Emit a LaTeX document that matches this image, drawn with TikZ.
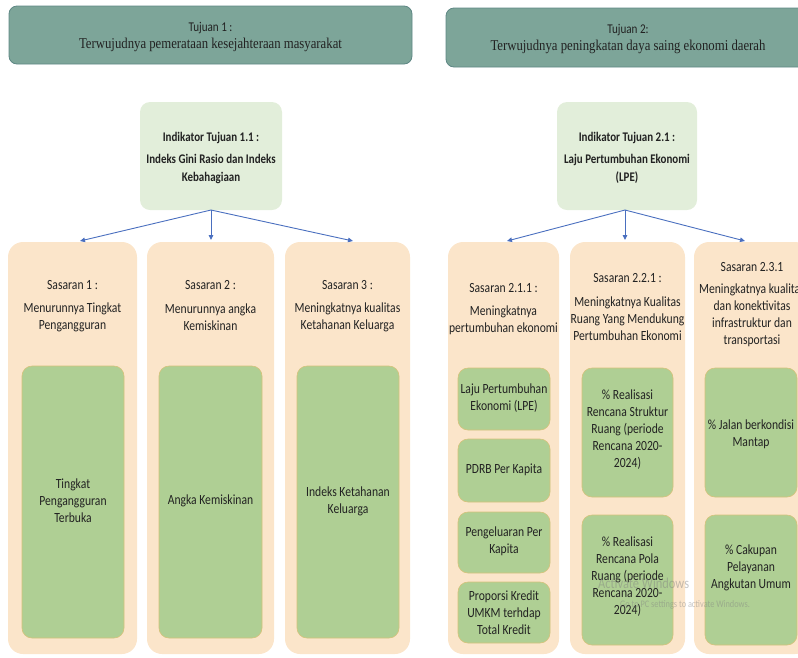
\documentclass[tikz,border=0pt]{standalone}
\usepackage{fontspec}
\setmainfont{Carlito}[FakeStretch=0.83]
\newfontfamily\headserif{Liberation Serif}[FakeStretch=0.85]
\usetikzlibrary{arrows.meta,calc}

\definecolor{tealhead}{HTML}{7DA599}
\definecolor{tealedge}{HTML}{5E8784}
\definecolor{indfill}{HTML}{E2EEDA}
\definecolor{sasfill}{HTML}{FBE5CA}
\definecolor{cellfill}{HTML}{AFCF94}
\definecolor{celledge}{HTML}{D6C27A}
\definecolor{arrowblue}{HTML}{4A6FBF}
\definecolor{ink}{HTML}{222222}

\begin{document}
\begin{tikzpicture}[x=1pt,y=-1pt,
  panel/.style={inner sep=0pt, outer sep=0pt},
  hdr/.style={panel, fill=tealhead, draw=tealedge, line width=0.8pt, rounded corners=8pt},
  indbox/.style={panel, fill=indfill, rounded corners=10pt},
  sasbox/.style={panel, fill=sasfill, rounded corners=15pt},
  cellbox/.style={panel, fill=cellfill, draw=celledge, line width=0.6pt, rounded corners=10pt},
  txt/.style={inner sep=0pt, align=center, text=ink, font=\fontsize{14}{17}\selectfont},
  hdrsmall/.style={inner sep=0pt, align=center, text=ink, font=\fontsize{13.4}{15}\selectfont},
  hdrbig/.style={inner sep=0pt, align=center, text=ink, font=\headserif\fontsize{15}{17}\selectfont},
  indtxt/.style={inner sep=0pt, align=center, text=ink, font=\bfseries\fontsize{13.2}{18}\selectfont},
  link/.style={draw=arrowblue, line width=0.9pt, -{Triangle[length=5pt,width=4.5pt]}},
  wmark/.style={inner sep=0pt, anchor=west, text=gray, text opacity=0.45}
]
\useasboundingbox (0,0) rectangle (798,657);
\clip (0,0) rectangle (798,657);

% ---- goal headers ----
\node[hdr, minimum width=403pt, minimum height=58pt] (h1) at (210.5,35) {};
\node[hdrsmall] (h1a) at (210.5,28) {Tujuan 1 :};
\node[hdrbig] (h1b) at (210.5,45) {Terwujudnya pemerataan kesejahteraan masyarakat};

\node[hdr, minimum width=364pt, minimum height=59pt] (h2) at (628,37.5) {};
\node[hdrsmall] (h2a) at (628,30) {Tujuan 2:};
\node[hdrbig] (h2b) at (628,47) {Terwujudnya peningkatan daya saing ekonomi daerah};

% ---- goal indicators ----
\node[indbox, minimum width=142pt, minimum height=108pt] (i1) at (211,156) {};
\node[indtxt] (i1a) at (211,138) {Indikator Tujuan 1.1 :};
\node[indtxt] (i1b) at (211,169) {Indeks Gini Rasio dan Indeks\\Kebahagiaan};

\node[indbox, minimum width=140pt, minimum height=108pt] (i2) at (627,156) {};
\node[indtxt] (i2a) at (627,138) {Indikator Tujuan 2.1 :};
\node[indtxt] (i2b) at (627,169) {Laju Pertumbuhan Ekonomi\\(LPE)};

% ---- targets, goal 1 ----
\node[sasbox, minimum width=129pt, minimum height=412pt] (s1) at (72.5,448) {};
\node[sasbox, minimum width=127pt, minimum height=412pt] (s2) at (210.5,448) {};
\node[sasbox, minimum width=125pt, minimum height=412pt] (s3) at (347.5,448) {};

\node[txt] (s1a) at (72.5,285) {Sasaran 1 :};
\node[txt] (s1b) at (72.5,317.5) {Menurunnya Tingkat\\Pengangguran};
\node[txt] (s2a) at (210.5,285) {Sasaran 2 :};
\node[txt] (s2b) at (210.5,317.5) {Menurunnya angka\\Kemiskinan};
\node[txt] (s3a) at (347.5,285) {Sasaran 3 :};
\node[txt] (s3b) at (347.5,317.5) {Meningkatnya kualitas\\Ketahanan Keluarga};

\node[cellbox, minimum width=102pt, minimum height=272pt] (c1) at (73,502) {};
\node[txt] (c1t) at (73,501) {Tingkat\\Pengangguran\\Terbuka};
\node[cellbox, minimum width=103pt, minimum height=272pt] (c2) at (210.5,502) {};
\node[txt] (c2t) at (210.5,501) {Angka Kemiskinan};
\node[cellbox, minimum width=102pt, minimum height=272pt] (c3) at (348,502) {};
\node[txt] (c3t) at (348,501) {Indeks Ketahanan\\Keluarga};

% ---- targets, goal 2 ----
\node[sasbox, minimum width=111pt, minimum height=412pt] (t1) at (503.5,448) {};
\node[sasbox, minimum width=115pt, minimum height=412pt] (t2) at (627.5,448) {};
\node[sasbox, minimum width=116pt, minimum height=412pt] (t3) at (752,448) {};

\node[txt] (t1a) at (503.5,288) {Sasaran 2.1.1 :};
\node[txt] (t1b) at (503.5,320.5) {Meningkatnya\\pertumbuhan ekonomi};
\node[txt] (t2a) at (627.5,278) {Sasaran 2.2.1 :};
\node[txt] (t2b) at (627.5,318.5) {Meningkatnya Kualitas\\Ruang Yang Mendukung\\Pertumbuhan Ekonomi};
\node[txt] (t3a) at (752,267) {Sasaran 2.3.1};
\node[txt] (t3b) at (752,315) {Meningkatnya kualitas\\dan konektivitas\\infrastruktur dan\\transportasi};

% first column of indicators
\node[cellbox, minimum width=92pt, minimum height=62pt] (d1) at (504,399) {};
\node[txt] (d1t) at (504,398.5) {Laju Pertumbuhan\\Ekonomi (LPE)};
\node[cellbox, minimum width=92pt, minimum height=63pt] (d2) at (504,470.5) {};
\node[txt] (d2t) at (504,470) {PDRB Per Kapita};
\node[cellbox, minimum width=92pt, minimum height=61pt] (d3) at (504,542.5) {};
\node[txt] (d3t) at (504,541.5) {Pengeluaran Per\\Kapita};
\node[cellbox, minimum width=92pt, minimum height=61pt] (d4) at (504,612.5) {};
\node[txt] (d4t) at (504,612.5) {Proporsi Kredit\\UMKM terhdap\\Total Kredit};

% second column of indicators
\node[cellbox, minimum width=91pt, minimum height=129pt] (e1) at (627.5,432.5) {};
\node[txt] (e1t) at (627.5,430) {\% Realisasi\\Rencana Struktur\\Ruang (periode\\Rencana 2020-\\2024)};
\node[cellbox, minimum width=91pt, minimum height=130pt] (e2) at (627.5,580) {};
\node[txt] (e2t) at (627.5,577) {\% Realisasi\\Rencana Pola\\Ruang (periode\\Rencana 2020-\\2024)};

% third column of indicators
\node[cellbox, minimum width=92pt, minimum height=129pt] (f1) at (751,432.5) {};
\node[txt] (f1t) at (751,434) {\% Jalan berkondisi\\Mantap};
\node[cellbox, minimum width=92pt, minimum height=130pt] (f2) at (751,580) {};
\node[txt] (f2t) at (751,567.5) {\% Cakupan\\Pelayanan\\Angkutan Umum};

% ---- connectors ----
\draw[link] (i1.south) -- ($(s1.north)+(7.5,-1)$);
\draw[link] (i1.south) -- ($(s2.north)+(0.5,-2)$);
\draw[link] (i1.south) -- ($(s3.north)+(5.5,-1)$);
\draw[link] ($(i2.south)+(-2,0)$) -- ($(t1.north)+(3.5,-1)$);
\draw[link] ($(i2.south)+(-2,0)$) -- ($(t2.north)+(-2.5,-2)$);
\draw[link] ($(i2.south)+(-2,0)$) -- ($(t3.north)+(-7,-1)$);

% ---- system watermark ----
\node[wmark, font=\fontsize{15}{16}\selectfont] (w1) at (598,583) {Activate Windows};
\node[wmark, font=\fontsize{10}{11}\selectfont] (w2) at (620,605) {Go to PC settings to activate Windows.};
\end{tikzpicture}
\end{document}
